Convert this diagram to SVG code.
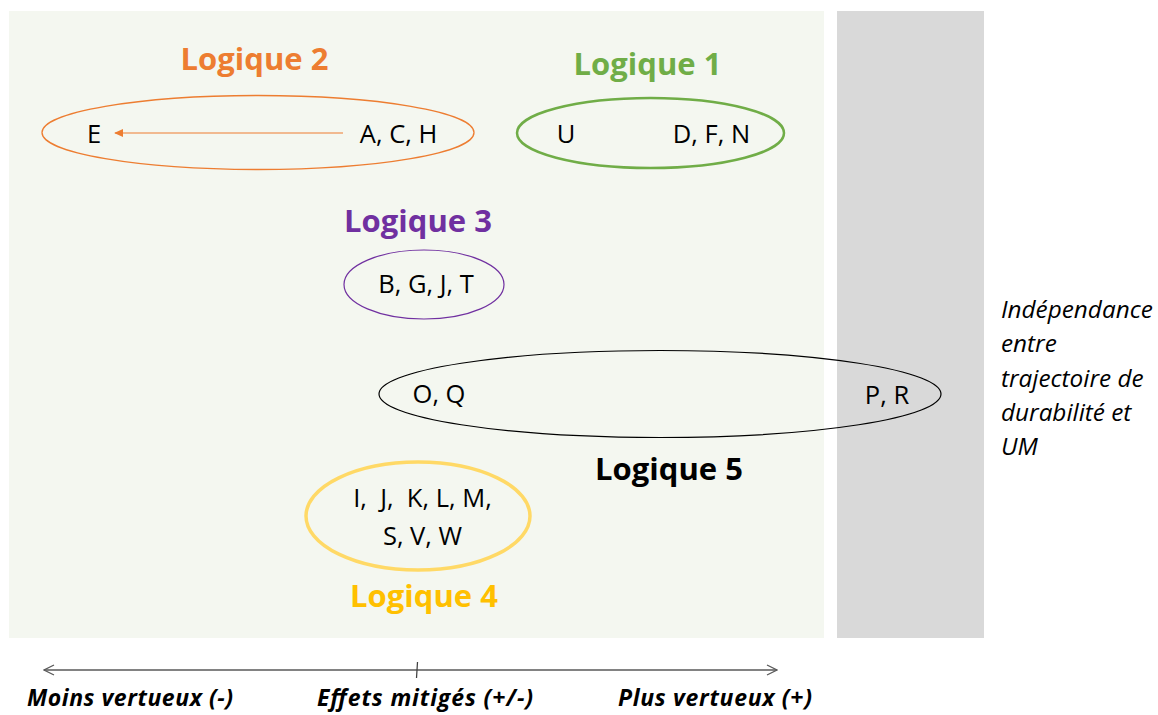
<svg xmlns="http://www.w3.org/2000/svg" width="1158" height="715" viewBox="0 0 1158 715">
  <defs>
    <style>
      .title { font-family: "Open Sans", "Liberation Sans", sans-serif; font-weight: bold; font-size: 31px; text-anchor: middle; }
      .item { font-family: "Open Sans", "Liberation Sans", sans-serif; font-size: 25.5px; fill: #000; text-anchor: middle; white-space: pre; }
      .axislbl { font-family: "Open Sans", "Liberation Sans", sans-serif; font-weight: bold; font-style: italic; font-size: 23px; fill: #000; }
      .side { font-family: "Open Sans", "Liberation Sans", sans-serif; font-style: italic; font-size: 24.3px; fill: #000; }
      .ell { fill: none; }
    </style>
    <marker id="tri" viewBox="0 0 10 10" refX="9" refY="5" markerWidth="9" markerHeight="9" markerUnits="userSpaceOnUse" orient="auto">
      <path d="M0,0.5 L10,5 L0,9.5 Z" fill="#ED7D31"/>
    </marker>
    <marker id="open" viewBox="0 0 12 12" refX="11" refY="6" markerWidth="12" markerHeight="12" markerUnits="userSpaceOnUse" orient="auto-start-reverse">
      <path d="M1,1 L11,6 L1,11" fill="none" stroke="#595959" stroke-width="1.3"/>
    </marker>
  </defs>

  <rect x="0" y="0" width="1158" height="715" fill="#ffffff"/>

  <g id="zones">
    <rect x="9" y="11" width="815" height="627" fill="#F4F7F0"/>
    <rect x="837" y="11" width="147" height="627" fill="#D9D9D9"/>
  </g>

  <g id="logique2">
    <text class="title" x="254.5" y="70" fill="#ED7D31">Logique 2</text>
    <ellipse class="ell" cx="258" cy="132.5" rx="216" ry="37" stroke="#ED7D31" stroke-width="1.3"/>
    <text class="item" x="94" y="143">E</text>
    <text class="item" x="398.5" y="143">A, C, H</text>
  </g>

  <g id="logique1">
    <text class="title" x="647.5" y="75" fill="#70AD47">Logique 1</text>
    <ellipse class="ell" cx="650.5" cy="133" rx="133.5" ry="35" stroke="#70AD47" stroke-width="2.5"/>
    <text class="item" x="566" y="143">U</text>
    <text class="item" x="711.5" y="143">D, F, N</text>
  </g>

  <g id="logique3">
    <text class="title" x="418" y="232" fill="#7030A0">Logique 3</text>
    <ellipse class="ell" cx="424" cy="284.5" rx="80" ry="34.5" stroke="#7030A0" stroke-width="1.2"/>
    <text class="item" x="426" y="293">B, G, J, T</text>
  </g>

  <g id="logique5">
    <ellipse class="ell" cx="660" cy="394" rx="281" ry="43.5" stroke="#000000" stroke-width="1.2"/>
    <text class="item" x="439" y="403">O, Q</text>
    <text class="item" x="887" y="404">P, R</text>
    <text class="title" x="669" y="480" fill="#000000">Logique 5</text>
  </g>

  <g id="logique4">
    <ellipse class="ell" cx="418" cy="516" rx="112" ry="54" stroke="#FFD966" stroke-width="3.5"/>
    <text class="item" x="422.5" y="507" xml:space="preserve">I,  J,  K, L, M,</text>
    <text class="item" x="422.5" y="545">S, V, W</text>
    <text class="title" x="424" y="607" fill="#FFC000">Logique 4</text>
  </g>

  <g id="independance">
    <text class="side" x="1001" y="318">Indépendance</text>
    <text class="side" x="1001" y="352">entre</text>
    <text class="side" x="1001" y="387">trajectoire de</text>
    <text class="side" x="1001" y="421">durabilité et</text>
    <text class="side" x="1001" y="455">UM</text>
  </g>

  <g id="axis-labels">
    <text class="axislbl" x="27" y="706" textLength="206" lengthAdjust="spacing">Moins vertueux (-)</text>
    <text class="axislbl" x="317" y="706" textLength="216" lengthAdjust="spacing">Effets mitigés (+/-)</text>
    <text class="axislbl" x="618" y="706" textLength="194" lengthAdjust="spacing">Plus vertueux (+)</text>
  </g>

  <g id="connectors">
    <line x1="343" y1="133" x2="115" y2="133" stroke="#ED7D31" stroke-width="1.2" marker-end="url(#tri)"/>
    <line x1="44" y1="670" x2="777" y2="670" stroke="#595959" stroke-width="1.5" marker-start="url(#open)" marker-end="url(#open)"/>
    <line x1="417.5" y1="662" x2="416.5" y2="678" stroke="#404040" stroke-width="1.3"/>
  </g>
</svg>
